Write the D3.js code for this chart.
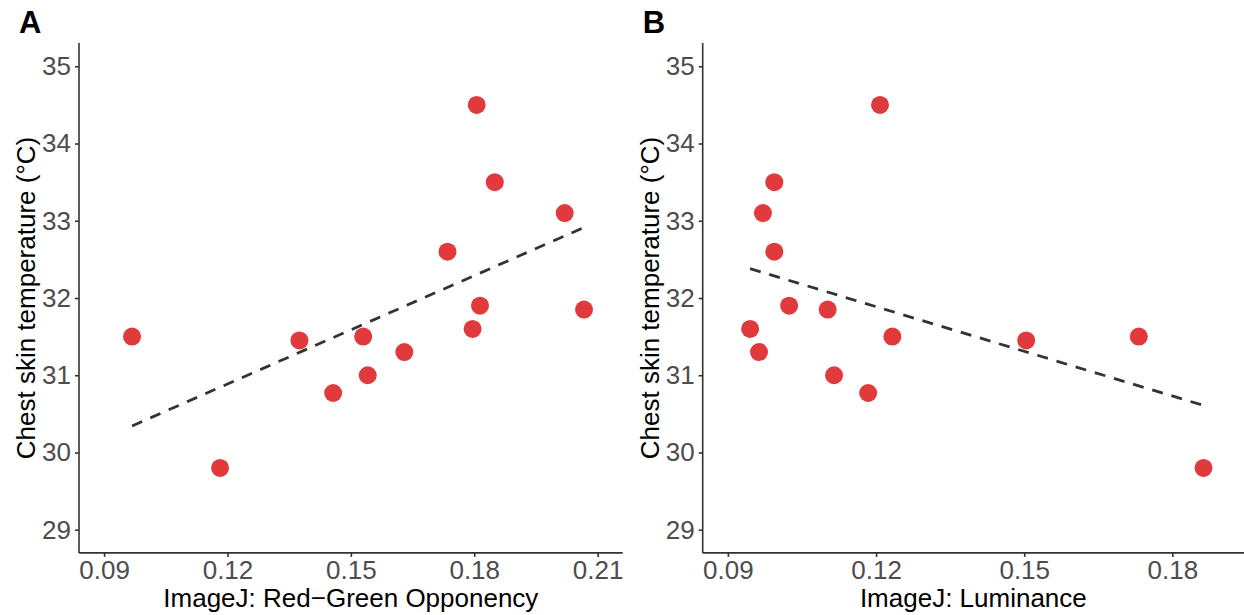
<!DOCTYPE html>
<html>
<head>
<meta charset="utf-8">
<script src="https://cdn.jsdelivr.net/npm/d3@7"></script>
<style>
  body { margin: 0; background: #fff; }
  svg { display: block; font-family: 'Liberation Sans', Arial, sans-serif; }
</style>
</head>
<body>
<div id="chart"></div>
<script>
// ----------------------------DATA-------------------------------//
// chest skin temperature, same 14 subjects in both panels
const temperature = [31.5, 29.8, 31.45, 30.77, 31.5, 31.0, 31.3, 32.6, 31.6, 34.5, 31.9, 33.5, 33.1, 31.85];
// panel A x values (paired with temperature above)
const redGreen = [0.0968, 0.1182, 0.1375, 0.1457, 0.1530, 0.1541, 0.1630, 0.1735, 0.1796, 0.1806, 0.1814, 0.1850, 0.2020, 0.2067];
// panel B x values
const lumTemp = [34.5, 33.5, 33.1, 32.6, 31.9, 31.85, 31.6, 31.3, 31.5, 31.0, 30.77, 31.45, 31.5, 29.8];
const luminance = [0.1208, 0.0994, 0.0971, 0.0994, 0.1024, 0.1102, 0.0945, 0.0963, 0.1233, 0.1115, 0.1184, 0.1504, 0.1732, 0.1863];

const yTicks = [29, 30, 31, 32, 33, 34, 35];
const xTicksA = [0.09, 0.12, 0.15, 0.18, 0.21];
const xTicksB = [0.09, 0.12, 0.15, 0.18];

const width = 1244;
const height = 615;

const svg = d3.select('#chart').append('svg')
  .attr('width', width)
  .attr('height', height);

// least squares fit, like geom_smooth(method = 'lm')
const fitLine = (xs, ys) => {
  const mx = d3.mean(xs);
  const my = d3.mean(ys);
  const sxy = d3.sum(xs, (x, i) => (x - mx) * (ys[i] - my));
  const sxx = d3.sum(xs, x => (x - mx) * (x - mx));
  const b = sxy / sxx;
  const a = my - b * mx;
  const ext = d3.extent(xs);
  return ext.map(x => ({ x, y: a + b * x }));
};

const drawPanel = (opts) => {
  const { left, right, xDomain, xTicks, xs, ys, label, xTitle } = opts;
  const top = 43.1;
  const bottom = 552.9;

  const xScale = d3.scaleLinear().domain(xDomain).range([left, right]);
  const yScale = d3.scaleLinear().domain([28.7, 35.3]).range([bottom, top]);

  const g = svg.append('g');

  // -----------------------------AXES------------------------------//
  const xaxis = d3.axisBottom(xScale)
    .tickValues(xTicks)
    .tickFormat(d3.format('.2f'))
    .tickSize(4)
    .tickPadding(4);
  const yaxis = d3.axisLeft(yScale)
    .tickValues(yTicks)
    .tickFormat(d3.format('d'))
    .tickSize(4)
    .tickPadding(4);

  const gx = g.append('g')
    .attr('transform', `translate(0,${bottom})`)
    .call(xaxis);
  const gy = g.append('g')
    .attr('transform', `translate(${left},0)`)
    .call(yaxis);

  [gx, gy].forEach(ax => {
    ax.select('.domain').attr('stroke', '#333').attr('stroke-width', 1.6);
    ax.selectAll('.tick line').attr('stroke', '#333').attr('stroke-width', 1.6);
    ax.selectAll('.tick text')
      .attr('fill', '#4d4d4d')
      .style('font-size', '26px')
      .style('font-family', "'Liberation Sans', Arial, sans-serif");
  });
  gx.select('.domain').attr('d', `M${left},0H${right}`);
  gy.select('.domain').attr('d', `M0,${bottom}V${top}`);

  // axis titles
  g.append('text')
    .attr('x', (left + right) / 2)
    .attr('y', 606.5)
    .attr('text-anchor', 'middle')
    .style('font-size', '26px')
    .attr('fill', '#000')
    .text(xTitle);

  g.append('text')
    .attr('transform', `translate(${left - 44},${(top + bottom) / 2}) rotate(-90)`)
    .attr('text-anchor', 'middle')
    .style('font-size', '26px')
    .attr('fill', '#000')
    .text('Chest skin temperature (°C)');

  // panel tag
  g.append('text')
    .attr('x', left - 60)
    .attr('y', 32.5)
    .style('font-size', '31px')
    .style('font-weight', 'bold')
    .attr('fill', '#000')
    .text(label);

  // ----------------------------LINES------------------------------//
  const line = d3.line()
    .x(d => xScale(d.x))
    .y(d => yScale(d.y));

  g.append('path')
    .datum(fitLine(xs, ys))
    .attr('d', line)
    .attr('fill', 'none')
    .attr('stroke', '#333')
    .attr('stroke-width', 2.8)
    .attr('stroke-dasharray', '11,9');

  // ----------------------------POINTS-----------------------------//
  g.selectAll('circle')
    .data(xs.map((x, i) => ({ x, y: ys[i] })))
    .enter()
    .append('circle')
    .attr('cx', d => xScale(d.x))
    .attr('cy', d => yScale(d.y))
    .attr('r', 9)
    .attr('fill', '#e03a3c');
};

drawPanel({
  left: 79,
  right: 622.7,
  xDomain: [0.0839, 0.2161],
  xTicks: xTicksA,
  xs: redGreen,
  ys: temperature,
  label: 'A',
  xTitle: 'ImageJ: Red\u2212Green Opponency',
});

drawPanel({
  left: 702.7,
  right: 1244,
  xDomain: [0.0849, 0.1945],
  xTicks: xTicksB,
  xs: luminance,
  ys: lumTemp,
  label: 'B',
  xTitle: 'ImageJ: Luminance',
});
</script>
</body>
</html>
